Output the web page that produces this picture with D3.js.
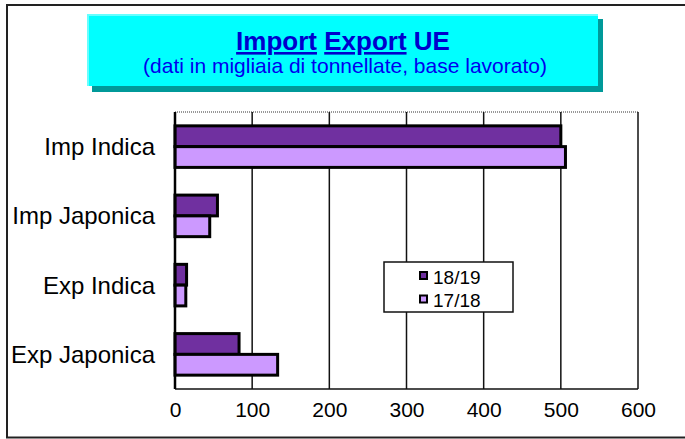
<!DOCTYPE html>
<html>
<head>
<meta charset="utf-8">
<script src="https://cdn.jsdelivr.net/npm/d3@7"></script>
<style>
  body { margin: 0; background: #fff; }
  svg { display: block; font-family: Arial, "Liberation Sans", sans-serif; }
</style>
</head>
<body>
<svg id="chart" width="685" height="439"></svg>
<script>
// Chart data
const categories = ["Imp Indica", "Imp Japonica", "Exp Indica", "Exp Japonica"];
const seriesNames = ["18/19", "17/18"];
const values1819 = [500, 55, 15, 83];
const values1718 = [506, 45, 14, 133];
const xTicks = [0, 100, 200, 300, 400, 500, 600];
const seriesColors = ["#7030a0", "#cc99ff"];

// Plot area
const plot = { left: 175, right: 638, top: 112, bottom: 389 };

const svg = d3.select("#chart");

// Outer frame
svg.append("rect")
  .attr("x", 7).attr("y", 5)
  .attr("width", 690).attr("height", 432.5)
  .attr("fill", "none")
  .attr("stroke", "#222")
  .attr("stroke-width", 2);

// Title box with shadow
svg.append("rect")
  .attr("x", 92).attr("y", 19)
  .attr("width", 511).attr("height", 73)
  .attr("fill", "#009999");
svg.append("rect")
  .attr("x", 87).attr("y", 14)
  .attr("width", 511).attr("height", 72)
  .attr("fill", "#66ffff");
svg.append("rect")
  .attr("x", 89).attr("y", 16)
  .attr("width", 509).attr("height", 70)
  .attr("fill", "#00ffff");

const title = svg.append("text")
  .attr("x", 343).attr("y", 50)
  .attr("text-anchor", "middle")
  .attr("font-size", 26)
  .attr("font-weight", "bold")
  .attr("fill", "#0000cc");
title.append("tspan").attr("text-decoration", "underline").text("Import");
title.append("tspan").text(" ");
title.append("tspan").attr("text-decoration", "underline").text("Export");
title.append("tspan").text(" UE");

svg.append("text")
  .attr("x", 345).attr("y", 73)
  .attr("text-anchor", "middle")
  .attr("font-size", 21)
  .attr("fill", "#0000ee")
  .text("(dati in migliaia di tonnellate, base lavorato)");

// Scales
const xScale = d3.scaleLinear()
  .domain([0, 600])
  .range([plot.left, plot.right]);

const yScale = d3.scaleBand()
  .domain(categories)
  .range([plot.top, plot.bottom])
  .paddingInner(0.4)
  .paddingOuter(0.2);

const ySub = d3.scaleBand()
  .domain(seriesNames)
  .range([0, yScale.bandwidth()]);

// Plot background and top border (dotted)
svg.append("rect")
  .attr("x", plot.left).attr("y", plot.top)
  .attr("width", plot.right - plot.left)
  .attr("height", plot.bottom - plot.top)
  .attr("fill", "#fff");

svg.append("line")
  .attr("x1", plot.left).attr("x2", plot.right)
  .attr("y1", plot.top).attr("y2", plot.top)
  .attr("stroke", "#777")
  .attr("stroke-width", 1.5)
  .attr("stroke-dasharray", "1,1");

// Gridlines
svg.append("g")
  .selectAll("line")
  .data(xTicks.slice(1))
  .join("line")
  .attr("x1", (d) => xScale(d)).attr("x2", (d) => xScale(d))
  .attr("y1", plot.top).attr("y2", plot.bottom)
  .attr("stroke", "#111")
  .attr("stroke-width", 1.5);

// Bottom border
svg.append("line")
  .attr("x1", plot.left).attr("x2", plot.right)
  .attr("y1", plot.bottom).attr("y2", plot.bottom)
  .attr("stroke", "#111")
  .attr("stroke-width", 1.5);

// X axis labels
const xAxis = svg.append("g")
  .attr("transform", `translate(0, ${plot.bottom + 28})`)
  .call(d3.axisBottom(xScale).tickValues(xTicks).tickSize(0).tickPadding(0));
xAxis.select(".domain").remove();
xAxis.selectAll("text")
  .attr("font-size", 21)
  .attr("font-family", "Arial, 'Liberation Sans', sans-serif")
  .attr("fill", "#000")
  .attr("dy", 0)
  .attr("y", 0);

// Bars
const rows = categories.map((c, i) => ({
  category: c,
  values: [
    { series: seriesNames[0], value: values1819[i], color: seriesColors[0] },
    { series: seriesNames[1], value: values1718[i], color: seriesColors[1] },
  ],
}));

const groups = svg.append("g")
  .selectAll("g")
  .data(rows)
  .join("g")
  .attr("transform", (d) => `translate(0, ${yScale(d.category)})`);

groups.selectAll("rect")
  .data((d) => d.values)
  .join("rect")
  .attr("x", xScale(0))
  .attr("y", (d) => ySub(d.series))
  .attr("width", (d) => xScale(d.value) - xScale(0))
  .attr("height", ySub.bandwidth())
  .attr("fill", (d) => d.color)
  .attr("stroke", "#000")
  .attr("stroke-width", 3);

// Left axis line
svg.append("line")
  .attr("x1", plot.left).attr("x2", plot.left)
  .attr("y1", plot.top).attr("y2", plot.bottom)
  .attr("stroke", "#000")
  .attr("stroke-width", 2.5);

// Category labels
svg.append("g")
  .selectAll("text")
  .data(categories)
  .join("text")
  .attr("x", plot.left - 20)
  .attr("y", (d) => yScale(d) + yScale.bandwidth() / 2 + 8.5)
  .attr("text-anchor", "end")
  .attr("font-size", 24)
  .attr("fill", "#000")
  .text((d) => d);

// Legend
const legend = svg.append("g").attr("transform", "translate(384, 262)");
legend.append("rect")
  .attr("width", 129).attr("height", 50)
  .attr("fill", "#fff")
  .attr("stroke", "#111")
  .attr("stroke-width", 1.5);

const legendItems = legend.selectAll("g")
  .data(seriesNames)
  .join("g")
  .attr("transform", (d, i) => `translate(0, ${i * 23.5})`);

legendItems.append("rect")
  .attr("x", 36).attr("y", 10)
  .attr("width", 7).attr("height", 7)
  .attr("fill", (d, i) => seriesColors[i])
  .attr("stroke", "#000")
  .attr("stroke-width", 2);

legendItems.append("text")
  .attr("x", 49).attr("y", 21.5)
  .attr("font-size", 19)
  .attr("fill", "#000")
  .text((d) => d);
</script>
</body>
</html>
